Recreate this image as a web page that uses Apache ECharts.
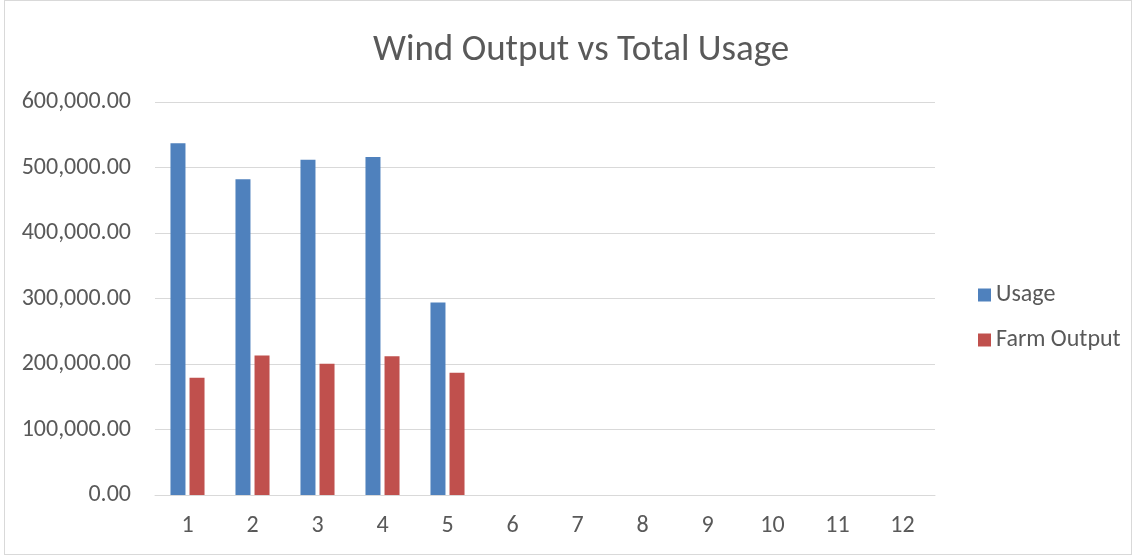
<!DOCTYPE html>
<html><head><meta charset="utf-8">
<script src="https://cdn.jsdelivr.net/npm/echarts@6/dist/echarts.min.js"></script>
<style>
html,body{margin:0;padding:0;background:#fff;}
#frame{position:absolute;left:4px;top:0px;width:1128px;height:555px;border:1px solid #d9d9d9;box-sizing:border-box;}
#c{position:absolute;left:0;top:0;width:1134px;height:557px;}
</style></head>
<body>
<div id="frame"></div>
<div id="c"></div>
<script>
const categories = ['1','2','3','4','5','6','7','8','9','10','11','12'];
const usage = [537000, 482000, 512000, 516000, 294000, null, null, null, null, null, null, null];
const farmOutput = [179000, 213000, 200500, 212000, 186500, null, null, null, null, null, null, null];
const seriesNames = ['Usage', 'Farm Output'];
const titleText = 'Wind Output vs Total Usage';

const chart = echarts.init(document.getElementById('c'));
const fontFam = 'Carlito, "Open Sans", "Noto Sans", sans-serif';
chart.setOption({
  animation: false,
  textStyle: {fontFamily: fontFam},
  title: {text: titleText, left: 368, top: 27,
    textStyle: {fontSize: 37, fontWeight: 'normal', color: '#595959', fontFamily: fontFam}},
  legend: {orient: 'vertical', left: 973, top: 278, itemGap: 21, itemWidth: 13, itemHeight: 13,
    icon: 'rect', textStyle: {fontSize: 24, color: '#595959', fontFamily: fontFam},
    data: seriesNames},
  grid: {left: 155, right: 199, top: 102, bottom: 62, containLabel: false},
  xAxis: {type: 'category', data: categories,
    axisLine: {lineStyle: {color: '#d9d9d9', width: 1}}, axisTick: {show: false},
    axisLabel: {fontSize: 24, color: '#595959', margin: 19, fontFamily: fontFam}},
  yAxis: {type: 'value', min: 0, max: 600000, interval: 100000,
    axisLine: {show: false}, axisTick: {show: false},
    splitLine: {lineStyle: {color: '#d9d9d9', width: 1}},
    axisLabel: {fontSize: 24, color: '#595959', margin: 24, fontFamily: fontFam,
      formatter: v => v.toLocaleString('en-US', {minimumFractionDigits: 2, maximumFractionDigits: 2})}},
  series: [
    {name: seriesNames[0], type: 'bar', data: usage, barWidth: 15, barGap: '27%',
      itemStyle: {color: '#4f81bd'}},
    {name: seriesNames[1], type: 'bar', data: farmOutput, barWidth: 15,
      itemStyle: {color: '#c0504d'}}
  ]
});
</script>
</body></html>
